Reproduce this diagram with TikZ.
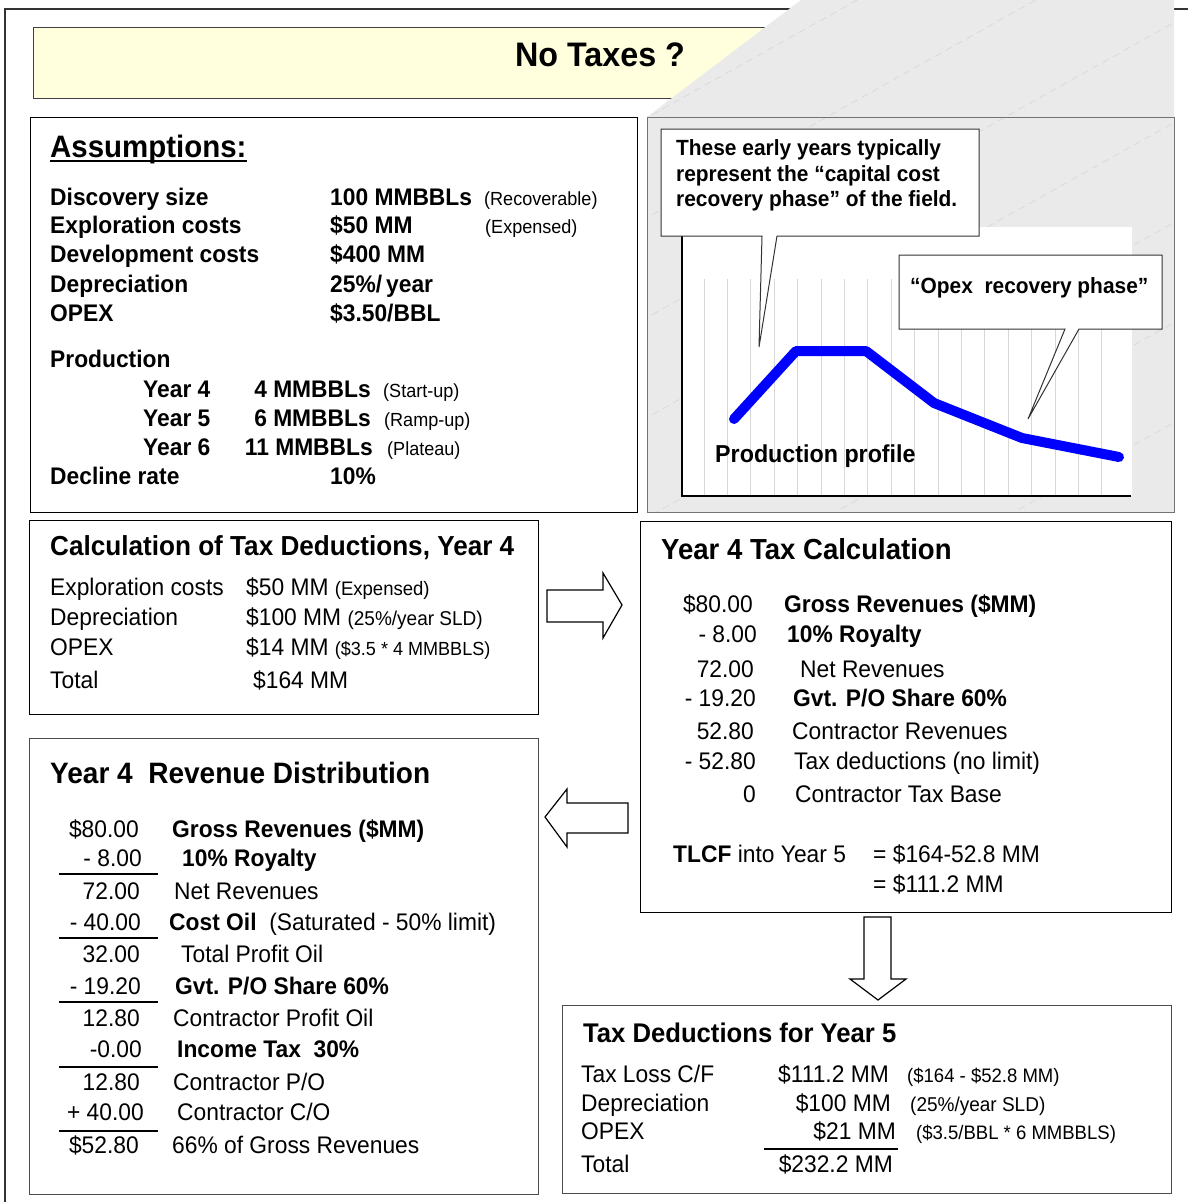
\documentclass[tikz,border=0pt]{standalone}
\usepackage{fontspec}
\setmainfont{Liberation Sans}[FakeStretch=0.95]
\newcommand\fsz[1]{\fontsize{#1}{#1}\selectfont}
\definecolor{titlefill}{RGB}{255,255,221}
\definecolor{panelgray}{RGB}{234,234,234}
\definecolor{gridgray}{RGB}{215,215,215}
\begin{document}
\begin{tikzpicture}[x=1pt,y=-1pt,
  t/.style={inner sep=0pt, anchor=base west, font=\fsz{24}},
  tb/.style={inner sep=0pt, anchor=base west, font=\fsz{24}\bfseries},
  tr/.style={inner sep=0pt, anchor=base east, font=\fsz{24}},
  sm/.style={inner sep=0pt, anchor=base west, font=\fsz{19}},
  boxa/.style={draw=black, line width=1.4pt, fill=white, inner sep=0pt, anchor=north west},
  boxb/.style={draw=black!70, line width=1.2pt, fill=white, inner sep=0pt, anchor=north west},
  blockarrow/.style={draw=black, line width=1.2pt, fill=white},
  callout/.style={draw=black!80, line width=1pt, fill=white},
  rule/.style={line width=1.5pt},
  faint/.style={draw=black!16, line width=0.6pt, dash pattern=on 7pt off 5pt}
]
\useasboundingbox (0,0) rectangle (1188,1202);
\fill[white] (0,0) rectangle (1188,1202);
% outer frame
\draw[line width=1.2pt, black!80] (5,1202) -- (5,9) -- (1188,9);
% title box
\node[draw=black!75, line width=1.2pt, fill=titlefill, inner sep=0pt, anchor=north west,
      minimum width=900pt, minimum height=71pt] (titlebox) at (33,27) {};
\node[inner sep=0pt, font=\fsz{34}\bfseries] (title) at (600,55) {No Taxes ?};
% gray page region
\fill[panelgray] (801,0) -- (1174,0) -- (1174,512) -- (647,512) -- (647,117) -- cycle;
\begin{scope}
\clip (801,0) -- (1174,0) -- (1174,512) -- (647,512) -- (647,117) -- cycle;
\foreach \c in {480,580,...,1380} \draw[faint] (600,\c-336) -- (1200,\c-672);
\end{scope}
\draw[black!55, line width=1pt] (647,117) rectangle (1174,512);
% chart
\fill[white] (682,227) rectangle (1132,496);
\foreach \k in {0,...,17} \draw[gridgray, line width=0.8pt] (704+23.4*\k,279) -- (704+23.4*\k,496);
\draw[line width=1.6pt] (682,227) -- (682,496) -- (1131,496);
\draw[blue, line width=10pt, line cap=round, line join=round]
  (734,419) -- (796,351) -- (866,351) -- (934,403) -- (1022,438) -- (1119,457);
\node[tb, font=\fsz{24.5}\bfseries] (prodprof) at (715,462) {Production profile};
% callout 1
\draw[callout] (661,129) -- (979,129) -- (979,236) -- (777,236) -- (759,347) -- (762,236) -- (661,236) -- cycle;
\node[tb, font=\fsz{22}\bfseries] (c1a) at (676,155) {These early years typically};
\node[tb, font=\fsz{22}\bfseries] (c1b) at (676,181) {represent the “capital cost};
\node[tb, font=\fsz{22}\bfseries] (c1c) at (676,206) {recovery phase” of the field.};
% callout 2
\draw[callout] (899,255) -- (1162,255) -- (1162,329) -- (1079,329) -- (1028,419) -- (1065,329) -- (899,329) -- cycle;
\node[tb, font=\fsz{22}\bfseries] (c2) at (910,293) {“Opex\ \ recovery phase”};

% ---------- Assumptions box
\node[boxa, minimum width=607pt, minimum height=395pt] (assump) at (30,117) {};
\node[tb, font=\fsz{31}\bfseries] (asst) at (50,157) {Assumptions:};
\draw[line width=2.2pt] ([yshift=-4pt]asst.base west) -- ([yshift=-4pt]asst.base east);
\node[tb] (a1) at (50,205) {Discovery size};
\node[tb] (a2) at (50,233) {Exploration costs};
\node[tb] (a3) at (50,262) {Development costs};
\node[tb] (a4) at (50,292) {Depreciation};
\node[tb] (a5) at (50,321) {OPEX};
\node[tb] (v1) at (330,205) {100 MMBBLs};
\node[tb] (v2) at (330,233) {\$50 MM};
\node[tb] (v3) at (330,262) {\$400 MM};
\node[tb] (v4) at (330,292) {25\%/\,year};
\node[tb] (v5) at (330,321) {\$3.50/BBL};
\node[sm] (p1) at (484,205) {(Recoverable)};
\node[sm] (p2) at (485,233) {(Expensed)};
\node[tb] (a6) at (50,367) {Production};
\node[tb] (y4) at (143,397) {Year 4};
\node[tb] (y5) at (143,426) {Year 5};
\node[tb] (y6) at (143,455) {Year 6};
\node[tb, anchor=base east] (m4) at (371,397) {4 MMBBLs};
\node[tb, anchor=base east] (m5) at (371,426) {6 MMBBLs};
\node[tb, anchor=base east] (m6) at (373,455) {11 MMBBLs};
\node[sm] (s4) at (383,397) {(Start-up)};
\node[sm] (s5) at (384,426) {(Ramp-up)};
\node[sm] (s6) at (387,455) {(Plateau)};
\node[tb] (a7) at (50,484) {Decline rate};
\node[tb] (v7) at (330,484) {10\%};

% ---------- Calculation of tax deductions
\node[boxa, minimum width=509pt, minimum height=194pt] (calc) at (29,520) {};
\node[tb, font=\fsz{27.5}\bfseries] (calct) at (50,555) {Calculation of Tax Deductions, Year 4};
\node[t] (k1) at (50,595) {Exploration costs};
\node[t] (k2) at (50,625) {Depreciation};
\node[t] (k3) at (50,655) {OPEX};
\node[t] (k4) at (50,688) {Total};
\node[t] (kv1) at (246,595) {\$50 MM {\fsz{19.5}(Expensed)}};
\node[t] (kv2) at (246,625) {\$100 MM {\fsz{20}(25\%/year SLD)}};
\node[t] (kv3) at (246,655) {\$14 MM {\fsz{19}(\$3.5 * 4 MMBBLS)}};
\node[t] (kv4) at (253,688) {\$164 MM};

% ---------- Year 4 tax calculation
\node[boxa, minimum width=531pt, minimum height=391pt] (taxcalc) at (640,521) {};
\node[tb, font=\fsz{29}\bfseries] (taxt) at (661,559) {Year 4 Tax Calculation};
\node[tr] (n1) at (753,612) {\$80.00};
\node[tr] (n2) at (757,642) {- 8.00};
\node[tr] (n3) at (754,677) {72.00};
\node[tr] (n4) at (756,706) {- 19.20};
\node[tr] (n5) at (754,739) {52.80};
\node[tr] (n6) at (756,769) {- 52.80};
\node[tr] (n7) at (756,802) {0};
\node[tb] (l1) at (784,612) {Gross Revenues (\$MM)};
\node[tb] (l2) at (787,642) {10\% Royalty};
\node[t] (l3) at (800,677) {Net Revenues};
\node[tb] (l4) at (793,706) {Gvt. P/O Share 60\%};
\node[t] (l5) at (792,739) {Contractor Revenues};
\node[t] (l6) at (794,769) {Tax deductions (no limit)};
\node[t] (l7) at (795,802) {Contractor Tax Base};
\node[t] (tl1) at (673,862) {\textbf{TLCF} into Year 5};
\node[t] (tl2) at (873,862) {= \$164-52.8 MM};
\node[t] (tl3) at (873,892) {= \$111.2 MM};

% ---------- Year 4 revenue distribution
\node[boxb, minimum width=509pt, minimum height=456pt] (rev) at (29,738) {};
\node[tb, font=\fsz{29.5}\bfseries] (revt) at (50,783) {Year 4\ \ Revenue Distribution};
\node[tr] (r1) at (139,837) {\$80.00};
\node[tr] (r2) at (142,866) {- 8.00};
\node[tr] (r3) at (140,899) {72.00};
\node[tr] (r4) at (141,930) {- 40.00};
\node[tr] (r5) at (140,962) {32.00};
\node[tr] (r6) at (141,994) {- 19.20};
\node[tr] (r7) at (140,1026) {12.80};
\node[tr] (r8) at (142,1057) {-0.00};
\node[tr] (r9) at (140,1090) {12.80};
\node[tr] (r10) at (144,1120) {+ 40.00};
\node[tr] (r11) at (139,1153) {\$52.80};
\node[tb] (q1) at (172,837) {Gross Revenues (\$MM)};
\node[tb] (q2) at (182,866) {10\% Royalty};
\node[t] (q3) at (174,899) {Net Revenues};
\node[t] (q4) at (169,930) {\textbf{Cost Oil}\ \ (Saturated - 50\% limit)};
\node[t] (q5) at (181,962) {Total Profit Oil};
\node[tb] (q6) at (175,994) {Gvt. P/O Share 60\%};
\node[t] (q7) at (173,1026) {Contractor Profit Oil};
\node[tb] (q8) at (177,1057) {Income Tax\ \ 30\%};
\node[t] (q9) at (173,1090) {Contractor P/O};
\node[t] (q10) at (177,1120) {Contractor C/O};
\node[t] (q11) at (172,1153) {66\% of Gross Revenues};
\foreach \yy in {874,938,1002,1067,1131} \draw[rule] (59,\yy) -- (158,\yy);

% ---------- Tax deductions year 5
\node[boxb, minimum width=609pt, minimum height=188pt] (y5box) at (562,1005) {};
\node[tb, font=\fsz{27}\bfseries] (y5t) at (583,1042) {Tax Deductions for Year 5};
\node[t] (d1) at (581,1082) {Tax Loss C/F};
\node[t] (d2) at (581,1111) {Depreciation};
\node[t] (d3) at (581,1139) {OPEX};
\node[t] (d4) at (581,1172) {Total};
\node[tr] (dv1) at (889,1082) {\$111.2 MM};
\node[tr] (dv2) at (891,1111) {\$100 MM};
\node[tr] (dv3) at (896,1139) {\$21 MM};
\node[tr] (dv4) at (893,1172) {\$232.2 MM};
\node[sm, font=\fsz{19.5}] (dp1) at (907,1082) {(\$164 - \$52.8 MM)};
\node[sm, font=\fsz{20}] (dp2) at (910,1111) {(25\%/year SLD)};
\node[sm, font=\fsz{19.5}] (dp3) at (916,1139) {(\$3.5/BBL * 6 MMBBLS)};
\draw[rule] (764,1149) -- (898,1149);

% ---------- block arrows
\draw[blockarrow] (547,590) -- (603,590) -- (603,573) -- (622,605) -- (603,638) -- (603,622) -- (547,622) -- cycle;
\draw[blockarrow] (545,817) -- (567,789) -- (567,803) -- (628,803) -- (628,833) -- (567,833) -- (567,847) -- cycle;
\draw[blockarrow] (864,917) -- (891,917) -- (891,979) -- (906,979) -- (878,1000) -- (850,979) -- (864,979) -- cycle;
\end{tikzpicture}
\end{document}
